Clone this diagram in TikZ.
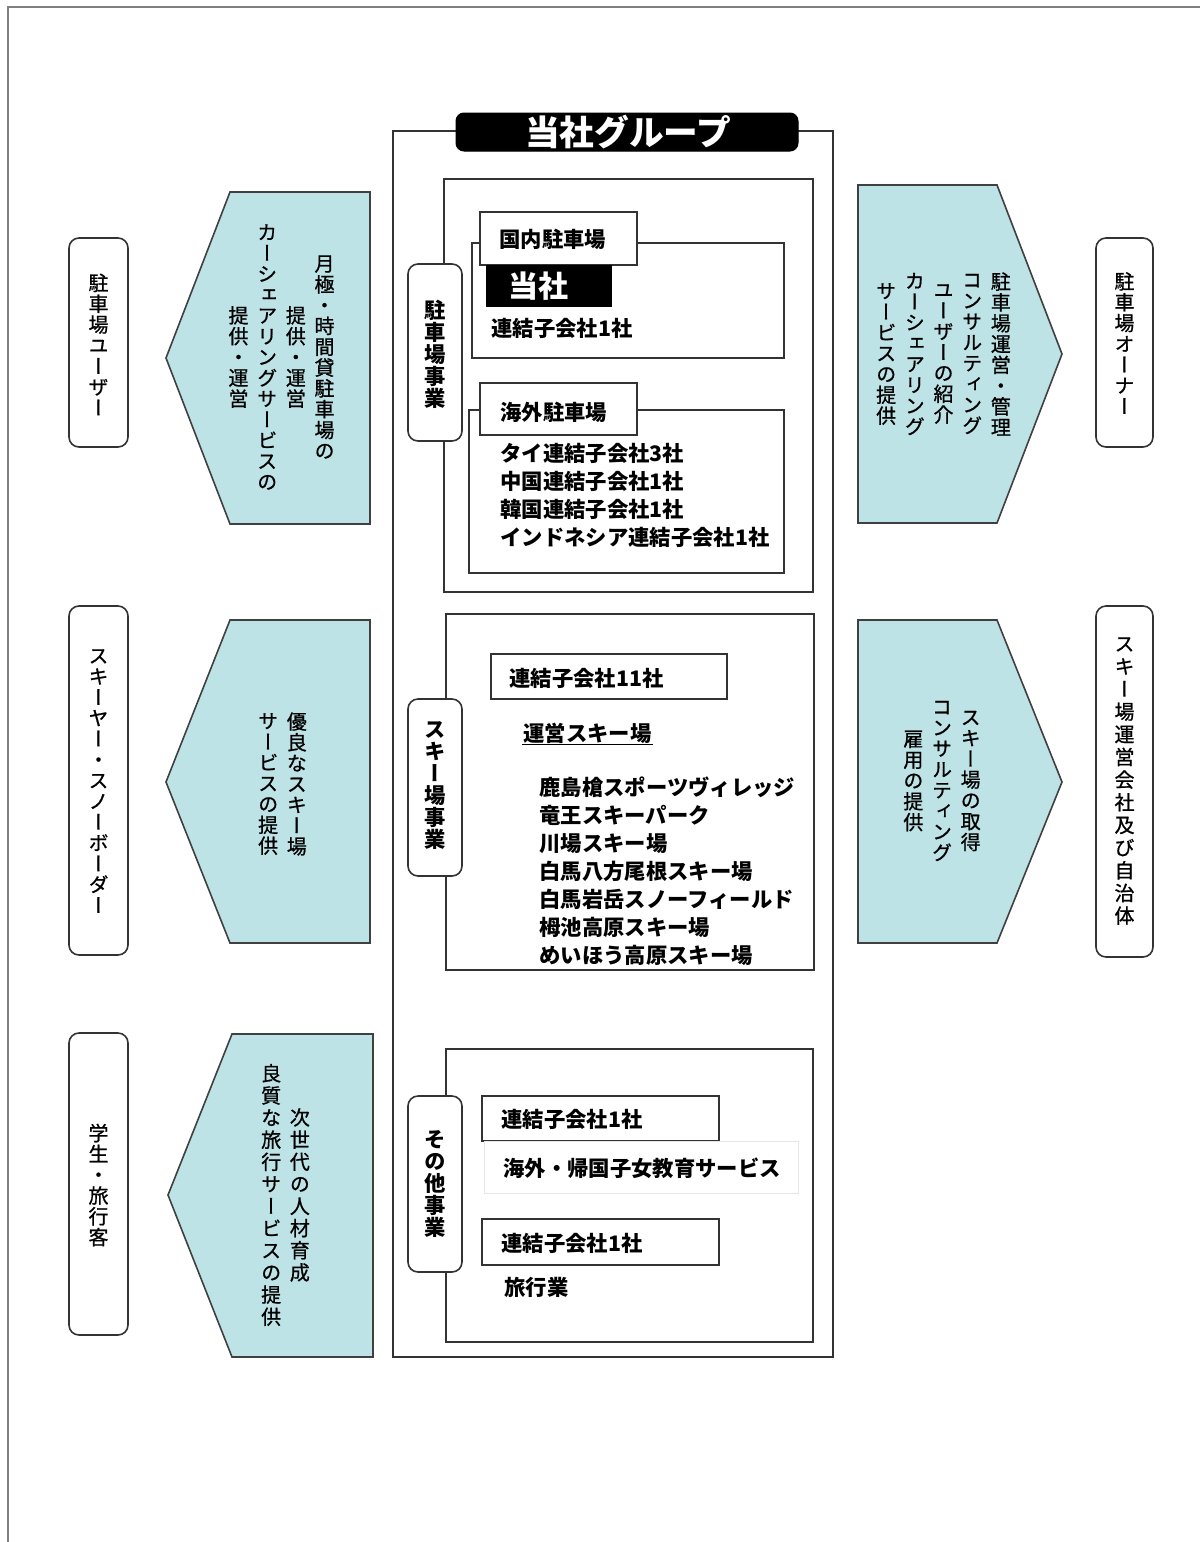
\documentclass[tikz,border=0pt]{standalone}
\usepackage{fontspec}
\setmainfont{Noto Sans CJK JP}
\newfontfamily\vjp[RawFeature=+vert]{Noto Sans CJK JP}
\newfontfamily\vjpm[RawFeature=+vert, FakeBold=0.8]{Noto Sans CJK JP}
\tikzset{every picture/.style={line width=0.75pt}}

% vertical writing: one column = one stack of characters, columns run right to left
\newbox\vbuild
\newlength\vgap \setlength\vgap{6.5pt}
\newcommand\vcol[1]{$\vcenter{\vcolstep#1\relax}$}
\def\vcolstep#1{\ifx\relax#1\else\hbox to 1em{\hss#1\hss}\expandafter\vcolstep\fi}
\newcommand\vlines[1]{%
  \global\setbox\vbuild=\hbox{}%
  \foreach \vl in {#1}{%
    \global\setbox\vbuild=\hbox{\expandafter\vcol\expandafter{\vl}%
      \ifdim\wd\vbuild>0pt \kern\vgap\fi\unhbox\vbuild}}%
  \box\vbuild}

\tikzset{
  framegray/.style={draw={rgb, 255:red, 128; green, 128; blue, 128 }, line width=1.5},
  boxline/.style={draw={rgb, 255:red, 51; green, 51; blue, 51 }, line width=1.5},
  tabbox/.style={boxline, fill=white},
  pillbox/.style={draw={rgb, 255:red, 51; green, 51; blue, 51 }, line width=1.2, fill=white, rounded corners=7.5},
  offer/.style={draw={rgb, 255:red, 64; green, 64; blue, 64 }, line width=1.2, fill={rgb, 255:red, 189; green, 227; blue, 230 }},
  bodytext/.style={anchor=west, inner sep=0.75pt, align=left, font=\fontsize{16}{21}\selectfont\bfseries},
  sidetext/.style={inner sep=0.75pt, font=\vjpm\fontsize{15}{15.6}\selectfont},
  pilltext/.style={inner sep=0.75pt, font=\vjp\bfseries\fontsize{16}{16.5}\selectfont},
}

\begin{document}
\begin{tikzpicture}[x=0.75pt,y=0.75pt,yscale=-1,xscale=1]
\useasboundingbox (0,0) rectangle (1200,1542);

%Straight Lines: page frame
\draw [framegray]  (8,1542) -- (8,7) -- (1200,7) ;

%Shape: Rectangle: group
\draw [boxline]  (393,131) rectangle (833,1357) ;
%Shape: Rounded Rect: group title
\draw [fill=black, rounded corners=6]  (456,113) rectangle (798,151) ;

%Shape: Rectangle: parking business
\draw [boxline]  (444,179) rectangle (813,592) ;
%Shape: Rectangle: domestic
\draw [boxline]  (472,243) rectangle (784,358) ;
\draw [tabbox]  (480,212) rectangle (637,265) ;
\draw [fill=black]  (486,265) rectangle (611,306) ;
%Shape: Rectangle: overseas
\draw [boxline]  (469,410) rectangle (784,573) ;
\draw [tabbox]  (480,383) rectangle (637,435) ;
%Shape: Rounded Rect
\draw [pillbox]  (408,264) rectangle (462,441) ;

%Shape: Rectangle: ski business
\draw [boxline]  (446,614) rectangle (814,970) ;
\draw [tabbox]  (491,654) rectangle (727,699) ;
%Shape: Rounded Rect
\draw [pillbox]  (408,699) rectangle (462,876) ;

%Shape: Rectangle: other business
\draw [boxline]  (446,1049) rectangle (813,1342) ;
\draw [tabbox]  (482,1096) rectangle (719,1141) ;
\draw [draw={rgb, 255:red, 230; green, 230; blue, 230 }]  (484,1141) rectangle (798,1193) ;
\draw [tabbox]  (482,1219) rectangle (719,1265) ;
%Shape: Rounded Rect
\draw [pillbox]  (408,1096) rectangle (462,1272) ;

%Shape: Pentagon (left arrows)
\draw [offer]  (370,192) -- (230,192) -- (166,358) -- (230,524) -- (370,524) -- cycle ;
\draw [offer]  (370,620) -- (230,620) -- (166,782) -- (230,943) -- (370,943) -- cycle ;
\draw [offer]  (373,1034) -- (232,1034) -- (168,1195) -- (232,1357) -- (373,1357) -- cycle ;
%Shape: Pentagon (right arrows)
\draw [offer]  (858,185) -- (997,185) -- (1062,354) -- (997,523) -- (858,523) -- cycle ;
\draw [offer]  (858,620) -- (997,620) -- (1062,782) -- (997,943) -- (858,943) -- cycle ;

%Shape: Rounded Rect (customers)
\draw [pillbox]  (69,238) rectangle (128,447) ;
\draw [pillbox]  (69,606) rectangle (128,955) ;
\draw [pillbox]  (69,1033) rectangle (128,1335) ;
\draw [pillbox]  (1096,238) rectangle (1153,447) ;
\draw [pillbox]  (1096,606) rectangle (1153,957) ;

% Text Node
\draw (628,132) node [inner sep=0.75pt, text=white, font=\fontsize{26}{26}\selectfont\bfseries] (grouptitle) {当社グループ};
% Text Node
\draw (435,354) node [pilltext] (parkbiz) {\vlines{駐車場事業}};
% Text Node
\draw (498,239) node [bodytext] (domtab) {国内駐車場};
% Text Node
\draw (507,286) node [anchor=west, inner sep=0.75pt, text=white, font=\fontsize{22.5}{22.5}\selectfont\bfseries] (tosha) {当社};
% Text Node
\draw (490,328) node [bodytext] (domsub) {連結子会社1社};
% Text Node
\draw (499,412) node [bodytext] (abroadtab) {海外駐車場};
% Text Node
\draw (499,495) node [bodytext] (abroadlist) {タイ連結子会社3社\\中国連結子会社1社\\韓国連結子会社1社\\インドネシア連結子会社1社};

% Text Node
\draw (435,786) node [pilltext] (skibiz) {\vlines{スキー場事業}};
% Text Node
\draw (508,678) node [bodytext] (skisub) {連結子会社11社};
% Text Node
\draw (522,733) node [bodytext] (skihead) {運営スキー場};
\draw [line width=0.75]  (skihead.south west) -- (skihead.south east) ;
% Text Node
\draw (538,871.5) node [bodytext] (skilist) {鹿島槍スポーツヴィレッジ\\竜王スキーパーク\\川場スキー場\\白馬八方尾根スキー場\\白馬岩岳スノーフィールド\\栂池高原スキー場\\めいほう高原スキー場};

% Text Node
\draw (435,1184) node [pilltext] (otherbiz) {\vlines{その他事業}};
% Text Node
\draw (500,1119) node [bodytext] (edusub) {連結子会社1社};
% Text Node
\draw (502,1168) node [bodytext] (edu) {海外・帰国子女教育サービス};
% Text Node
\draw (500,1243) node [bodytext] (travelsub) {連結子会社1社};
% Text Node
\draw (503,1287) node [bodytext] (travel) {旅行業};

% Text Node
\draw (281.5,357) node [sidetext] (parkoffer) {\vlines{月極・時間貸駐車場の,提供・運営,カーシェアリングサービスの,提供・運営}};
% Text Node
\draw (282.5,784) node [sidetext] (skioffer) {\vlines{優良なスキー場,サービスの提供}};
% Text Node
\draw (285.5,1195) node [sidetext, font=\vjpm\fontsize{15}{16.6}\selectfont] (traveloffer) {\vlines{次世代の人材育成,良質な旅行サービスの提供}};
% Text Node
\draw (943.5,354) node [sidetext] (ownerservice) {\vlines{駐車場運営・管理,コンサルティング,ユーザーの紹介,カーシェアリング,サービスの提供}};
% Text Node
\draw (942,781) node [sidetext] (resortservice) {\vlines{スキー場の取得,コンサルティング,雇用の提供}};

% Text Node
\draw (98.5,344.5) node [sidetext] (parkuser) {\vlines{駐車場ユーザー}};
% Text Node
\draw (98.5,781) node [sidetext] (skier) {\vlines{スキーヤー・スノーボーダー}};
% Text Node
\draw (98.5,1185) node [sidetext] (student) {\vlines{学生・旅行客}};
% Text Node
\draw (1124.5,343) node [sidetext] (parkowner) {\vlines{駐車場オーナー}};
% Text Node
\draw (1124.5,781) node [sidetext, font=\vjpm\fontsize{15}{17}\selectfont] (resortowner) {\vlines{スキー場運営会社及び自治体}};

\end{tikzpicture}
\end{document}
